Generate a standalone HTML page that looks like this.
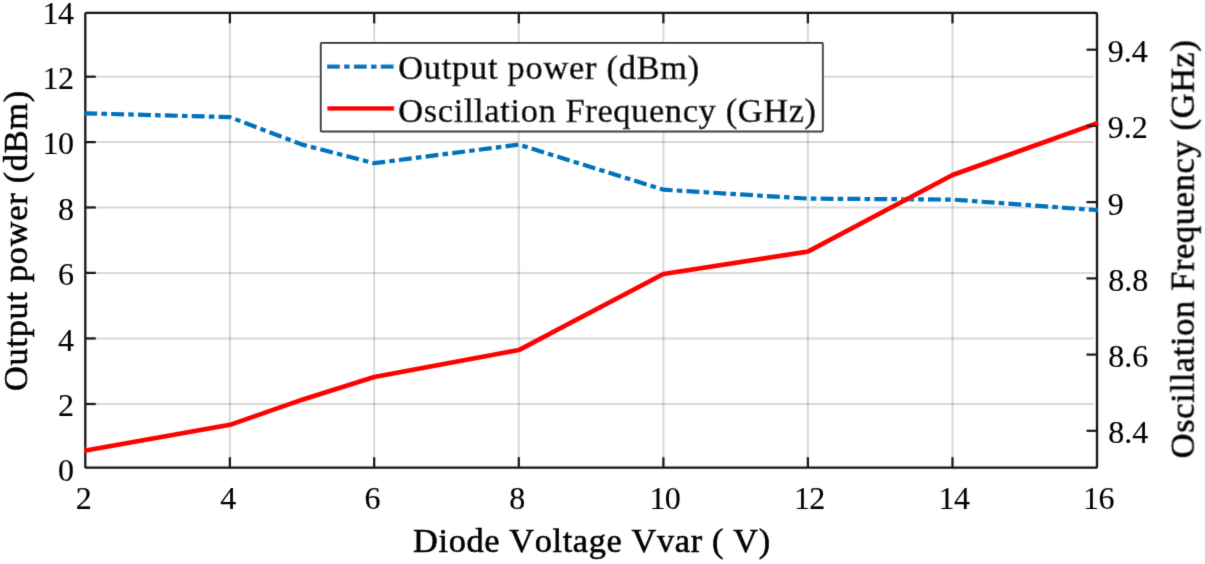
<!DOCTYPE html>
<html><head><meta charset="utf-8"><style>
html,body{margin:0;padding:0;background:#fff;}
svg{display:block}
text{font-family:"Liberation Serif",serif;fill:#000;font-kerning:none;stroke:#000;stroke-width:0.55px;}
.t{font-size:32px;stroke-width:0.15px}
.l{font-size:34.3px}
</style></head><body>
<svg width="1205" height="564" viewBox="0 0 1205 564">
<defs><filter id="bl" x="0" y="0" width="1205" height="564" filterUnits="userSpaceOnUse"><feConvolveMatrix order="3" kernelMatrix="0.018 0.135 0.018 0.135 1 0.135 0.018 0.135 0.018" divisor="1.612" edgeMode="duplicate" preserveAlpha="false"/></filter></defs>
<rect width="1205" height="564" fill="#fff"/>
<g filter="url(#bl)">
<line x1="229.9" y1="12.9" x2="229.9" y2="467.7" stroke="#000" stroke-opacity="0.15" stroke-width="2"/>
<line x1="374.2" y1="12.9" x2="374.2" y2="467.7" stroke="#000" stroke-opacity="0.15" stroke-width="2"/>
<line x1="518.8" y1="12.9" x2="518.8" y2="467.7" stroke="#000" stroke-opacity="0.15" stroke-width="2"/>
<line x1="663.4" y1="12.9" x2="663.4" y2="467.7" stroke="#000" stroke-opacity="0.15" stroke-width="2"/>
<line x1="807.9" y1="12.9" x2="807.9" y2="467.7" stroke="#000" stroke-opacity="0.15" stroke-width="2"/>
<line x1="952.5" y1="12.9" x2="952.5" y2="467.7" stroke="#000" stroke-opacity="0.15" stroke-width="2"/>
<line x1="85.3" y1="404.0" x2="1094.0" y2="404.0" stroke="#000" stroke-opacity="0.15" stroke-width="2"/>
<line x1="85.3" y1="338.45" x2="1094.0" y2="338.45" stroke="#000" stroke-opacity="0.15" stroke-width="2"/>
<line x1="85.3" y1="272.9" x2="1094.0" y2="272.9" stroke="#000" stroke-opacity="0.15" stroke-width="2"/>
<line x1="85.3" y1="207.45" x2="1094.0" y2="207.45" stroke="#000" stroke-opacity="0.15" stroke-width="2"/>
<line x1="85.3" y1="142.1" x2="1094.0" y2="142.1" stroke="#000" stroke-opacity="0.15" stroke-width="2"/>
<line x1="85.3" y1="76.7" x2="1094.0" y2="76.7" stroke="#000" stroke-opacity="0.15" stroke-width="2"/>
<rect x="85.3" y="12.9" width="1011.7" height="454.8" rx="1.5" fill="none" stroke="#161616" stroke-width="2.3"/>
<line x1="229.9" y1="467.7" x2="229.9" y2="457.2" stroke="#161616" stroke-width="2.2"/>
<line x1="229.9" y1="12.9" x2="229.9" y2="23.4" stroke="#161616" stroke-width="2.2"/>
<line x1="374.2" y1="467.7" x2="374.2" y2="457.2" stroke="#161616" stroke-width="2.2"/>
<line x1="374.2" y1="12.9" x2="374.2" y2="23.4" stroke="#161616" stroke-width="2.2"/>
<line x1="518.8" y1="467.7" x2="518.8" y2="457.2" stroke="#161616" stroke-width="2.2"/>
<line x1="518.8" y1="12.9" x2="518.8" y2="23.4" stroke="#161616" stroke-width="2.2"/>
<line x1="663.4" y1="467.7" x2="663.4" y2="457.2" stroke="#161616" stroke-width="2.2"/>
<line x1="663.4" y1="12.9" x2="663.4" y2="23.4" stroke="#161616" stroke-width="2.2"/>
<line x1="807.9" y1="467.7" x2="807.9" y2="457.2" stroke="#161616" stroke-width="2.2"/>
<line x1="807.9" y1="12.9" x2="807.9" y2="23.4" stroke="#161616" stroke-width="2.2"/>
<line x1="952.5" y1="467.7" x2="952.5" y2="457.2" stroke="#161616" stroke-width="2.2"/>
<line x1="952.5" y1="12.9" x2="952.5" y2="23.4" stroke="#161616" stroke-width="2.2"/>
<line x1="85.3" y1="404.0" x2="95.8" y2="404.0" stroke="#161616" stroke-width="2.2"/>
<line x1="85.3" y1="338.45" x2="95.8" y2="338.45" stroke="#161616" stroke-width="2.2"/>
<line x1="85.3" y1="272.9" x2="95.8" y2="272.9" stroke="#161616" stroke-width="2.2"/>
<line x1="85.3" y1="207.45" x2="95.8" y2="207.45" stroke="#161616" stroke-width="2.2"/>
<line x1="85.3" y1="142.1" x2="95.8" y2="142.1" stroke="#161616" stroke-width="2.2"/>
<line x1="85.3" y1="76.7" x2="95.8" y2="76.7" stroke="#161616" stroke-width="2.2"/>
<polyline points="84.3,113.3 229.9,117.1 302.1,144.6 374.2,163.2 518.8,144.6 663.4,189.7 807.9,198.6 952.5,199.6 1098.0,210.2" fill="none" stroke="#0072bd" stroke-width="4.2" stroke-dasharray="12.9,4.2,5.56,4.2" stroke-linejoin="round"/>
<polyline points="84.3,450.8 229.9,424.8 302.1,399.7 374.2,377.0 518.8,350.1 663.4,274.0 807.9,251.6 952.5,175.0 1098.0,122.8" fill="none" stroke="#ff0000" stroke-width="4.6" stroke-linejoin="round"/>
<line x1="1096.0" y1="49.7" x2="1086.5" y2="49.7" stroke="#161616" stroke-width="2.2"/>
<line x1="1096.0" y1="125.9" x2="1086.5" y2="125.9" stroke="#161616" stroke-width="2.2"/>
<line x1="1096.0" y1="202.1" x2="1086.5" y2="202.1" stroke="#161616" stroke-width="2.2"/>
<line x1="1096.0" y1="278.4" x2="1086.5" y2="278.4" stroke="#161616" stroke-width="2.2"/>
<line x1="1096.0" y1="354.6" x2="1086.5" y2="354.6" stroke="#161616" stroke-width="2.2"/>
<line x1="1096.0" y1="430.8" x2="1086.5" y2="430.8" stroke="#161616" stroke-width="2.2"/>
<text class="t" x="83.7" y="508.6" text-anchor="middle">2</text>
<text class="t" x="228.3" y="508.6" text-anchor="middle">4</text>
<text class="t" x="372.6" y="508.6" text-anchor="middle">6</text>
<text class="t" x="517.2" y="508.6" text-anchor="middle">8</text>
<text class="t" x="664.8" y="508.6" text-anchor="middle" letter-spacing="-0.6">10</text>
<text class="t" x="809.3" y="508.6" text-anchor="middle" letter-spacing="-0.6">12</text>
<text class="t" x="953.9" y="508.6" text-anchor="middle" letter-spacing="-0.6">14</text>
<text class="t" x="1098.4" y="508.6" text-anchor="middle" letter-spacing="-0.6">16</text>
<text class="t" x="74" y="480.8" text-anchor="end">0</text>
<text class="t" x="74" y="416.2" text-anchor="end">2</text>
<text class="t" x="74" y="350.6" text-anchor="end">4</text>
<text class="t" x="74" y="285.1" text-anchor="end">6</text>
<text class="t" x="74" y="219.6" text-anchor="end">8</text>
<text class="t" x="73.4" y="154.3" text-anchor="end" letter-spacing="-0.6">10</text>
<text class="t" x="73.4" y="88.9" text-anchor="end" letter-spacing="-0.6">12</text>
<text class="t" x="73.4" y="23.5" text-anchor="end" letter-spacing="-0.6">14</text>
<text class="t" x="1108.2" y="443.2">8.4</text>
<text class="t" x="1108.2" y="367.0">8.6</text>
<text class="t" x="1108.2" y="290.8">8.8</text>
<text class="t" x="1107.7" y="214.5">9</text>
<text class="t" x="1107.7" y="138.3">9.2</text>
<text class="t" x="1107.7" y="62.1">9.4</text>
<text class="l" id="xl" x="413.1" y="552" letter-spacing="0.641" xml:space="preserve">Diode Voltage Vvar ( V)</text>
<text class="l" id="yl" transform="translate(27.0,391.0) rotate(-90)" letter-spacing="0.735">Output power (dBm)</text>
<text class="l" id="yr" transform="translate(1193.7,458.3) rotate(-90)" letter-spacing="0.7">Oscillation Frequency (GHz)</text>
<rect x="320.8" y="43" width="502" height="88.5" rx="1" fill="#fff" stroke="#383838" stroke-width="1.9"/>
<line x1="327" y1="66.6" x2="394.2" y2="66.6" stroke="#0072bd" stroke-width="4.2" stroke-dasharray="12.9,4.2,5.56,4.2"/>
<line x1="327.3" y1="108.4" x2="394.2" y2="108.4" stroke="#ff0000" stroke-width="4.6"/>
<text class="l" id="l1" x="398.3" y="79.2" letter-spacing="0.776">Output power (dBm)</text>
<text class="l" id="l2" x="398.3" y="121.7" letter-spacing="0.681">Oscillation Frequency (GHz)</text>
</g></svg></body></html>
